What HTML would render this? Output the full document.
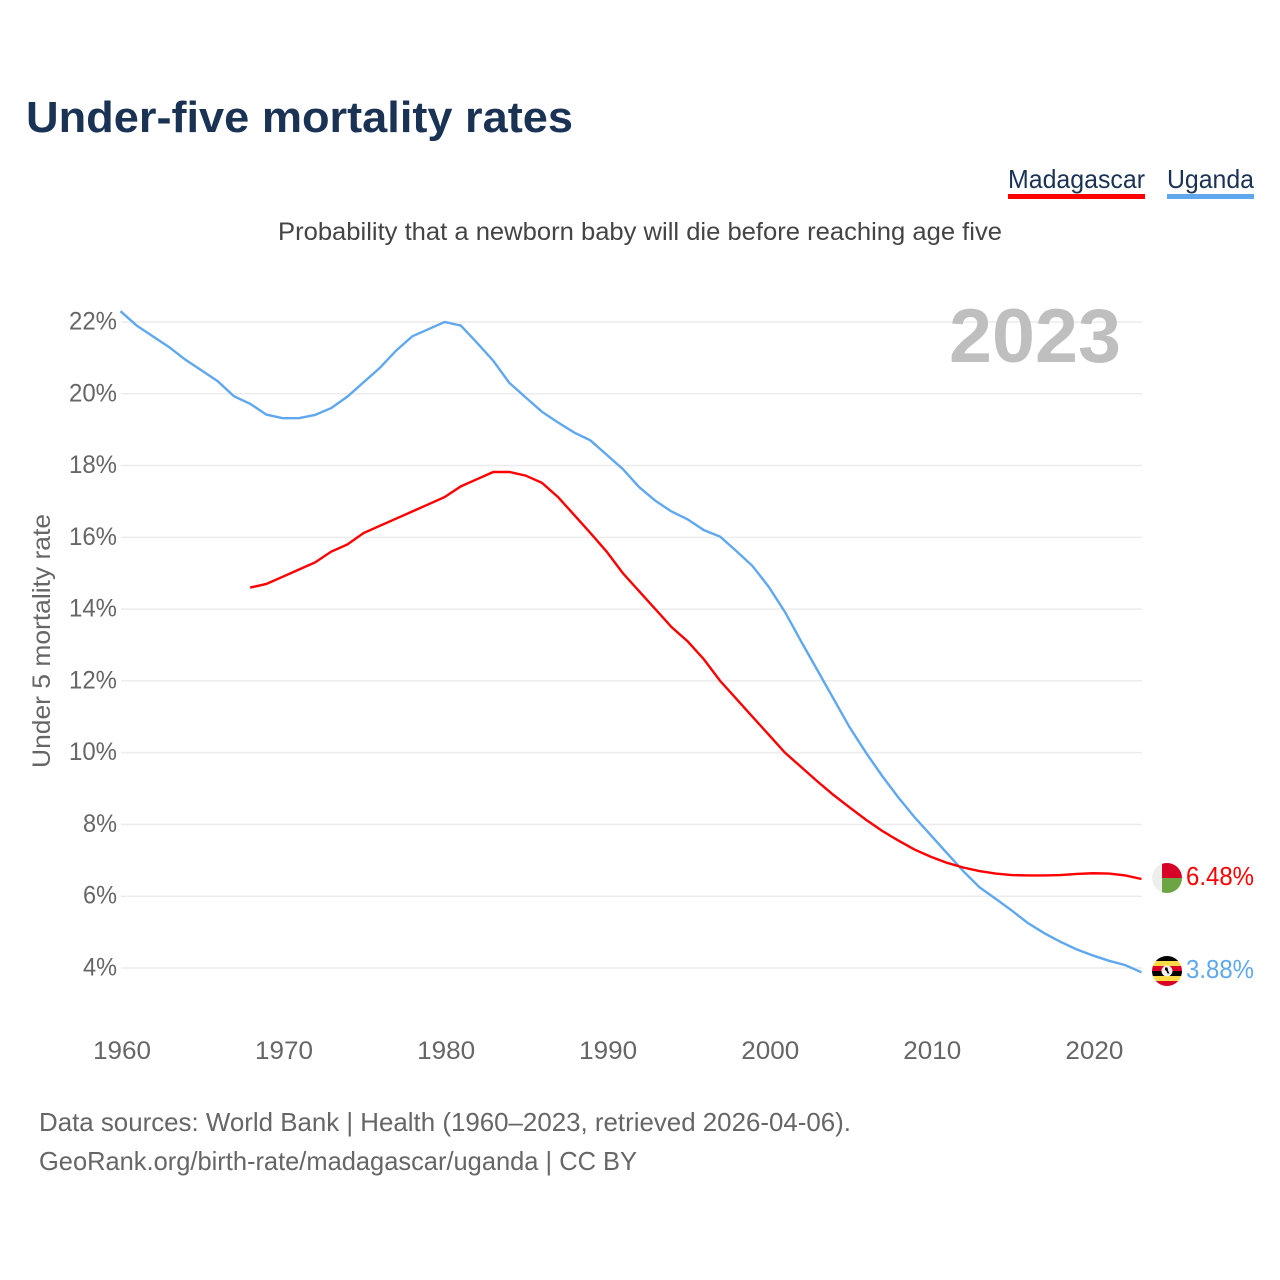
<!DOCTYPE html>
<html lang="en">
<head>
<meta charset="utf-8">
<title>Under-five mortality rates</title>
<style>
html,body{margin:0;padding:0;background:#fff;}
svg{display:block;font-family:"Liberation Sans",sans-serif;}
</style>
</head>
<body>
<svg id="chart" xmlns="http://www.w3.org/2000/svg" width="1280" height="1280" viewBox="0 0 1280 1280">
  <defs>
    <clipPath id="clip-mg"><circle cx="1167" cy="878" r="15"/></clipPath>
    <clipPath id="clip-ug"><circle cx="1167" cy="971" r="15"/></clipPath>
  </defs>
  <text x="26" y="132" font-size="44" font-weight="700" fill="#1a3254" textLength="547" lengthAdjust="spacingAndGlyphs">Under-five mortality rates</text>
  <g>
    <text x="1008" y="188" font-size="26" fill="#1a3254" textLength="137" lengthAdjust="spacingAndGlyphs">Madagascar</text>
    <rect x="1008" y="194" width="137" height="5" fill="#ff0000"/>
  </g>
  <g>
    <text x="1167" y="188" font-size="26" fill="#1a3254" textLength="87" lengthAdjust="spacingAndGlyphs">Uganda</text>
    <rect x="1167" y="194" width="87" height="5" fill="#5fa8ee"/>
  </g>
  <text x="278" y="240" font-size="25" fill="#444444" textLength="724" lengthAdjust="spacingAndGlyphs">Probability that a newborn baby will die before reaching age five</text>
  <g id="grid"></g>
  <g id="yticks"></g>
  <g id="xticks"></g>
  <text x="1121" y="362" text-anchor="end" font-size="76" font-weight="700" fill="#bfbfbf" textLength="172" lengthAdjust="spacingAndGlyphs">2023</text>
  <text transform="translate(50 641) rotate(-90)" text-anchor="middle" font-size="25" fill="#666666" textLength="254" lengthAdjust="spacingAndGlyphs">Under 5 mortality rate</text>
  <g id="series"></g>
  <g clip-path="url(#clip-mg)">
    <rect x="1152" y="863" width="30" height="30" fill="#eeeeee"/>
    <rect x="1162" y="863" width="20" height="15" fill="#d80027"/>
    <rect x="1162" y="878" width="20" height="15" fill="#6da544"/>
  </g>
  <g clip-path="url(#clip-ug)">
    <rect x="1152" y="956" width="30" height="5" fill="#000000"/>
    <rect x="1152" y="961" width="30" height="5" fill="#ffda44"/>
    <rect x="1152" y="966" width="30" height="5" fill="#d80027"/>
    <rect x="1152" y="971" width="30" height="5" fill="#000000"/>
    <rect x="1152" y="976" width="30" height="5" fill="#ffda44"/>
    <rect x="1152" y="981" width="30" height="5" fill="#d80027"/>
    <circle cx="1167" cy="971" r="5.5" fill="#f0f0f0"/>
    <path d="M1165 967.5h2.5l.5 3 1.5 3h-2l-1-2.500-1.500-1z" fill="#000000"/>
  </g>
  <text id="label-mg" x="1186" y="885" font-size="26" fill="#ff0000" textLength="68" lengthAdjust="spacingAndGlyphs"></text>
  <text id="label-ug" x="1186" y="978" font-size="26" fill="#5fa8ee" textLength="68" lengthAdjust="spacingAndGlyphs"></text>
  <text x="39" y="1131" font-size="26" fill="#666666" textLength="812" lengthAdjust="spacingAndGlyphs">Data sources: World Bank | Health (1960–2023, retrieved 2026-04-06).</text>
  <text x="39" y="1170" font-size="26" fill="#666666" textLength="598" lengthAdjust="spacingAndGlyphs">GeoRank.org/birth-rate/madagascar/uganda | CC BY</text>
</svg>
<script>
const yTickValues = [4, 6, 8, 10, 12, 14, 16, 18, 20, 22];
const xTickYears = [1960, 1970, 1980, 1990, 2000, 2010, 2020];
const ugandaStartYear = 1960;
const ugandaValues = [22.3,21.9,21.6,21.3,20.95,20.65,20.35,19.93,19.72,19.42,19.32,19.32,19.41,19.6,19.92,20.32,20.72,21.2,21.6,21.8,22.0,21.9,21.42,20.92,20.3,19.9,19.5,19.2,18.92,18.7,18.3,17.9,17.4,17.02,16.72,16.5,16.2,16.02,15.62,15.2,14.62,13.92,13.1,12.3,11.5,10.7,10.0,9.35,8.75,8.2,7.7,7.2,6.7,6.25,5.93,5.6,5.25,4.97,4.73,4.52,4.35,4.2,4.08,3.88];
const madagascarStartYear = 1968;
const madagascarValues = [14.6,14.7,14.9,15.1,15.3,15.6,15.8,16.12,16.32,16.52,16.72,16.92,17.12,17.42,17.62,17.82,17.82,17.72,17.52,17.12,16.62,16.12,15.6,15.0,14.5,14.0,13.5,13.1,12.6,12.0,11.5,11.0,10.5,10.0,9.6,9.2,8.82,8.47,8.13,7.82,7.55,7.3,7.1,6.93,6.8,6.7,6.63,6.59,6.58,6.58,6.59,6.62,6.64,6.63,6.58,6.48];
const endValueMadagascar = 6.48;
const endValueUganda = 3.88;

const NS = 'http://www.w3.org/2000/svg';
const xScale = year => 120.5 + (year - 1960) * 16.206;
const yScale = value => 968 - (value - 4) * 35.89;

const grid = document.getElementById('grid');
const yticks = document.getElementById('yticks');
const xticks = document.getElementById('xticks');
const series = document.getElementById('series');

yTickValues.forEach(function (v) {
  const line = document.createElementNS(NS, 'line');
  
  
  line.setAttribute('x1', 121);
  line.setAttribute('x2', 1142);
  line.setAttribute('y1', yScale(v));
  line.setAttribute('y2', yScale(v));
  line.setAttribute('stroke', '#ececec');
  line.setAttribute('stroke-width', 1.5);
  grid.appendChild(line);

  const t = document.createElementNS(NS, 'text');
  
  
  t.setAttribute('x', 117);
  t.setAttribute('y', yScale(v) + 7.5);
  t.setAttribute('text-anchor', 'end');
  t.setAttribute('font-size', 25);
  t.setAttribute('fill', '#666666');
  t.setAttribute('textLength', v < 10 ? 34 : 48);
  t.setAttribute('lengthAdjust', 'spacingAndGlyphs');
  t.textContent = v + '%';
  yticks.appendChild(t);
});

xTickYears.forEach(function (year) {
  const t = document.createElementNS(NS, 'text');
  
  
  t.setAttribute('x', xScale(year) + 1.5);
  t.setAttribute('y', 1059);
  t.setAttribute('text-anchor', 'middle');
  t.setAttribute('font-size', 25);
  t.setAttribute('fill', '#666666');
  t.setAttribute('textLength', 58);
  t.setAttribute('lengthAdjust', 'spacingAndGlyphs');
  t.textContent = year;
  xticks.appendChild(t);
});

function linePoints(startYear, values) {
  return values.map(function (v, i) {
    return xScale(startYear + i).toFixed(2) + ',' + yScale(v).toFixed(2);
  }).join(' ');
}

const ugandaLine = document.createElementNS(NS, 'polyline');


ugandaLine.setAttribute('points', linePoints(ugandaStartYear, ugandaValues));
ugandaLine.setAttribute('fill', 'none');
ugandaLine.setAttribute('stroke', '#5fa8ee');
ugandaLine.setAttribute('stroke-width', 2.4);
series.appendChild(ugandaLine);

const madagascarLine = document.createElementNS(NS, 'polyline');


madagascarLine.setAttribute('points', linePoints(madagascarStartYear, madagascarValues));
madagascarLine.setAttribute('fill', 'none');
madagascarLine.setAttribute('stroke', '#ff0000');
madagascarLine.setAttribute('stroke-width', 2.4);
series.appendChild(madagascarLine);

document.getElementById('label-mg').textContent = endValueMadagascar.toFixed(2) + '%';
document.getElementById('label-ug').textContent = endValueUganda.toFixed(2) + '%';
</script>
</body>
</html>
